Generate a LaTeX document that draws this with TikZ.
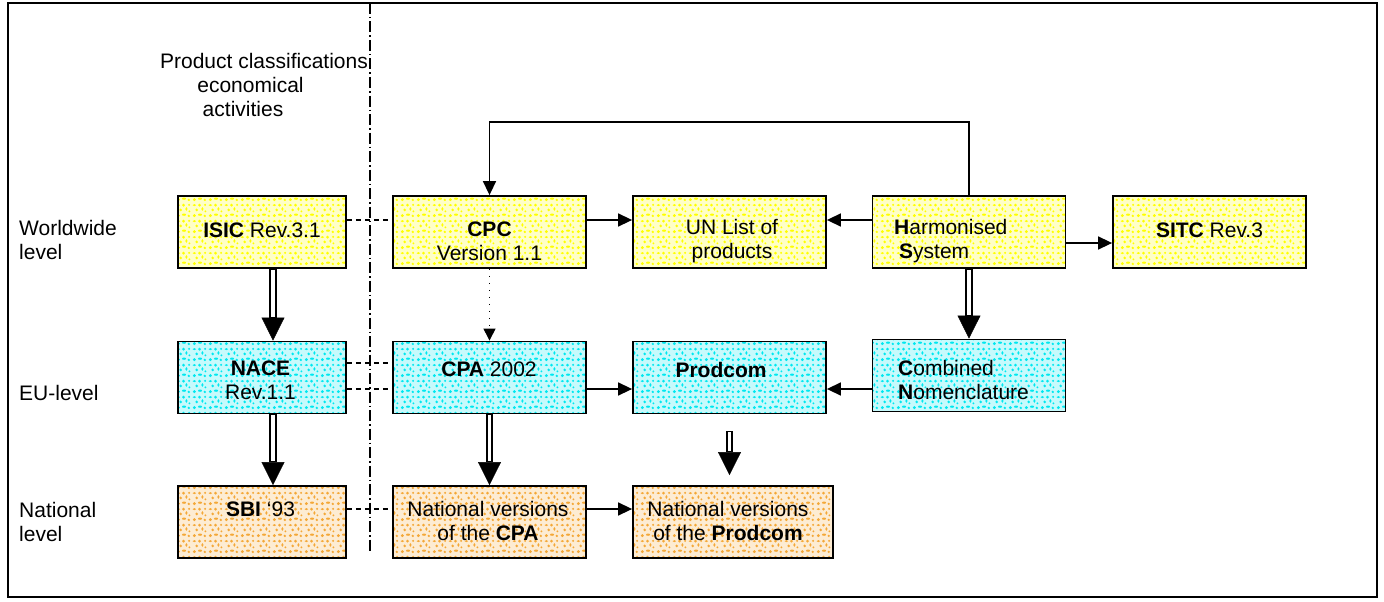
\documentclass[tikz,border=0pt]{standalone}
\usepackage{fontspec}
\setmainfont{Liberation Sans}
\usetikzlibrary{arrows.meta,patterns.meta}
\definecolor{cY}{RGB}{255,255,0}
\definecolor{cC}{RGB}{0,232,240}
\definecolor{cO}{RGB}{244,168,56}
\newcommand{\dfont}{\fontsize{21}{24}\selectfont}
\tikzdeclarepattern{
  name=speckle,
  type=uncolored,
  bottom left={(0pt,0pt)},
  top right={(16pt,16pt)},
  tile size={(16pt,16pt)},
  code={
    \tikzset{x=1pt,y=1pt}
    \fill (2.5,2.5) circle [radius=1.6];
    \fill (8.5,3.5) ellipse [x radius=2.2, y radius=1.2];
    \fill (13.5,2.2) circle [radius=1.4];
    \fill (5,8.5) circle [radius=1.5];
    \fill (11,9.5) ellipse [x radius=1.2, y radius=2];
    \fill (2.5,13.5) ellipse [x radius=1.9, y radius=1.1];
    \fill (8,13.5) circle [radius=1.6];
    \fill (13.8,13.8) circle [radius=1.2];
    \fill (14.2,7) circle [radius=1.1];
  }
}
\tikzset{
  box/.style={draw=black, line width=1.8pt, minimum width=193pt, minimum height=72pt, inner sep=0pt, pattern=speckle},
  ybox/.style={box, pattern color=cY, preaction={fill=cY!22}},
  cbox/.style={box, pattern color=cC, preaction={fill=cC!22}},
  obox/.style={box, pattern color=cO, preaction={fill=cO!22}},
  txt/.style={inner sep=0pt, align=center, font=\dfont},
  arr/.style={line width=1.5pt, -{Triangle[width=13pt,length=14pt]}},
  dsh/.style={line width=1.5pt, dash pattern=on 5pt off 4pt},
  dotarr/.style={line width=1pt, dash pattern=on 1pt off 6pt, -{Triangle[width=12pt,length=12pt]}},
  dbl/.style={line width=7.5pt, -{Triangle[width=23pt,length=23pt,line width=0.4pt]},
    postaction={draw=white, line width=3.2pt, arrows=-, shorten >=24pt, shorten <=1pt}}
}
\begin{document}
\begin{tikzpicture}[x=1pt,y=-1pt]
\useasboundingbox (0,0) rectangle (1384,602);
\draw[line width=2pt] (8,3) rectangle (1377,597);
\draw[line width=1.8pt, dash pattern=on 11pt off 3pt on 1.5pt off 3pt] (370,3) -- (370,553);

\node[txt] (head) at (264,85) {Product classifications\\economical\rule{27pt}{0pt}\\activities\rule{42pt}{0pt}};
\node[txt, align=left, anchor=west] (lworld) at (19,239.5) {Worldwide\\level};
\node[txt, align=left, anchor=west] (leu) at (19,393) {EU-level};
\node[txt, align=left, anchor=west] (lnat) at (19,522) {National\\level};

% boxes
\node[ybox, minimum width=168pt] (isic) at (262,232) {};
\node[ybox] (cpc) at (489.5,232) {};
\node[ybox] (un) at (729.5,232) {};
\node[ybox] (hs) at (969,232) {};
\node[ybox] (sitc) at (1209.5,232) {};
\node[cbox, minimum width=168pt] (nace) at (262,377.5) {};
\node[cbox] (cpa) at (489.5,377.5) {};
\node[cbox] (prodcom) at (729.5,377.5) {};
\node[cbox] (cn) at (969,375.5) {};
\node[obox, minimum width=168pt] (sbi) at (262,522) {};
\node[obox] (ncpa) at (489.5,522) {};
\node[obox, minimum width=200pt] (nprod) at (733,522) {};

% texts
\node[txt] (tisic) at (262,230) {\textbf{ISIC} Rev.3.1};
\node[txt] (tcpc) at (489.5,241) {\textbf{CPC}\\Version 1.1};
\node[txt] (tun) at (732,241.5) {UN List of\\products};
\node[txt, align=left, anchor=west] (ths) at (894,241) {\textbf{H}armonised\\\hspace*{5pt}\textbf{S}ystem};
\node[txt] (tsitc) at (1209.5,230) {\textbf{SITC} Rev.3};
\node[txt] (tnace) at (260.5,380) {\textbf{NACE}\\Rev.1.1};
\node[txt] (tcpa) at (489,369) {\textbf{CPA} 2002};
\node[txt] (tprodcom) at (721,370) {\textbf{Prodcom}};
\node[txt, align=left, anchor=west] (tcn) at (898,380) {\textbf{C}ombined\\\textbf{N}omenclature};
\node[txt] (tsbi) at (260.5,509) {\textbf{SBI} ‘93};
\node[txt] (tncpa) at (488,520.5) {National versions\\of the \textbf{CPA}};
\node[txt] (tnprod) at (728,520.5) {National versions\\of the \textbf{Prodcom}};

% connectors
\draw[dsh] ([yshift=12]isic.east) -- ([yshift=12]cpc.west);
\draw[arr] ([yshift=12]cpc.east) -- ([yshift=12]un.west);
\draw[arr] ([yshift=12]hs.west) -- ([yshift=12]un.east);
\draw[arr] ([yshift=-11]hs.east) -- ([yshift=-11]sitc.west);
\draw[arr] (hs.north) -- ++(0,-73) -| (cpc.north);
\draw[dotarr] (cpc.south) -- (cpa.north);
\draw[dbl] ([xshift=11]isic.south) -- ([xshift=11]nace.north);
\draw[dbl] ([xshift=11]nace.south) -- ([xshift=11]sbi.north);
\draw[dbl] (cpa.south) -- (ncpa.north);
\draw[dbl] (hs.south) -- (cn.north);
\draw[dbl] ([yshift=-17]prodcom.south) -- ([yshift=10]nprod.north -| prodcom.south);
\draw[dsh] ([yshift=14.5]nace.east) -- ([yshift=14.5]cpa.west);
\draw[dsh] ([yshift=-11.5]nace.east) -- ([yshift=-11.5]cpa.west);
\draw[arr] ([yshift=-11.5]cpa.east) -- ([yshift=-11.5]prodcom.west);
\draw[arr] ([yshift=-11.5]prodcom.east -| cn.west) -- ([yshift=-11.5]prodcom.east);
\draw[dsh] ([yshift=13]sbi.east) -- ([yshift=13]ncpa.west);
\draw[arr] ([yshift=13]ncpa.east) -- ([yshift=13]nprod.west);
\end{tikzpicture}
\end{document}
